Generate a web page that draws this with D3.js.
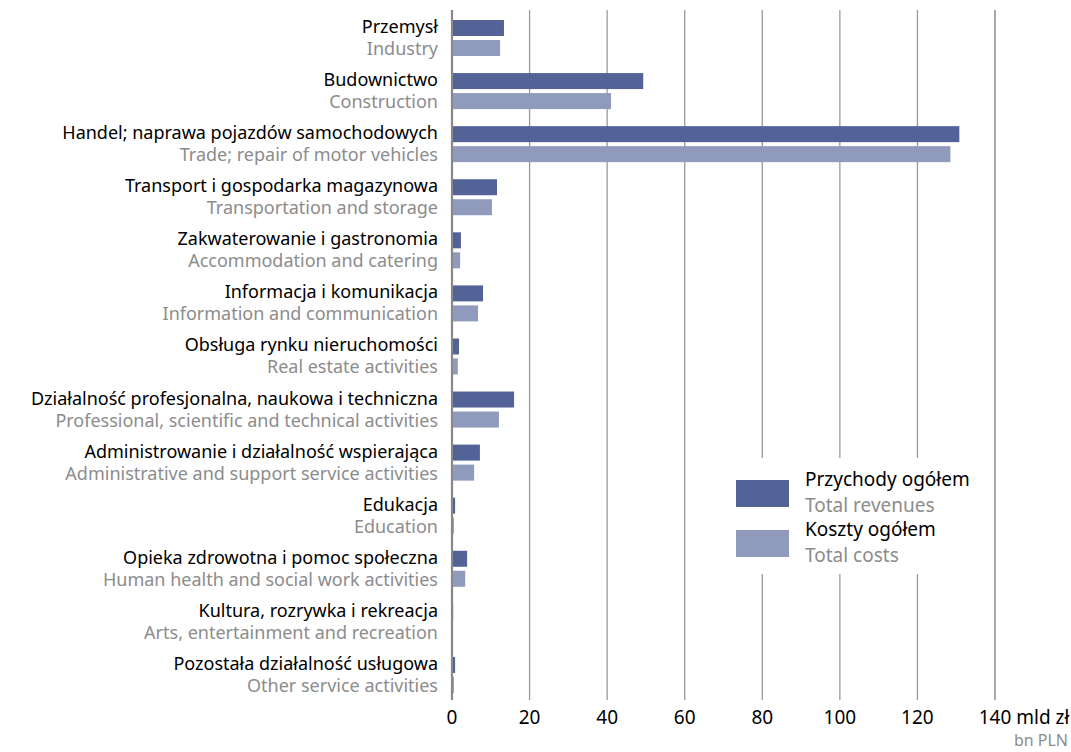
<!DOCTYPE html>
<html lang="pl">
  <head>
    <meta charset="utf-8" />
    <title>Przychody i koszty ogółem</title>
    <script src="https://cdn.jsdelivr.net/npm/d3@7"></script>
    <style>
      body {
        margin: 0;
        background: #fff;
      }
      svg {
        font-family: "Noto Sans", sans-serif;
      }
      .pl {
        fill: #000;
        font-size: 18px;
      }
      .en {
        fill: #8c8c8c;
        font-size: 18px;
      }
      .tick-label {
        font-size: 19px;
        fill: #000;
      }
    </style>
  </head>
  <body>
    <svg id="chart"></svg>
    <script>
      const labelsPl = [
        "Przemysł",
        "Budownictwo",
        "Handel; naprawa pojazdów samochodowych",
        "Transport i gospodarka magazynowa",
        "Zakwaterowanie i gastronomia",
        "Informacja i komunikacja",
        "Obsługa rynku nieruchomości",
        "Działalność profesjonalna, naukowa i techniczna",
        "Administrowanie i działalność wspierająca",
        "Edukacja",
        "Opieka zdrowotna i pomoc społeczna",
        "Kultura, rozrywka i rekreacja",
        "Pozostała działalność usługowa"
      ];
      const labelsEn = [
        "Industry",
        "Construction",
        "Trade; repair of motor vehicles",
        "Transportation and storage",
        "Accommodation and catering",
        "Information and communication",
        "Real estate activities",
        "Professional, scientific and technical activities",
        "Administrative and support service activities",
        "Education",
        "Human health and social work activities",
        "Arts, entertainment and recreation",
        "Other service activities"
      ];
      const revenues = [13.4, 49.3, 130.8, 11.6, 2.3, 8.0, 1.8, 16.0, 7.2, 0.8, 3.9, 0.3, 0.8];
      const costs = [12.4, 41.0, 128.5, 10.3, 2.1, 6.7, 1.5, 12.1, 5.7, 0.5, 3.4, 0.2, 0.5];
      const ticks = [0, 20, 40, 60, 80, 100, 120, 140];
      const seriesPl = ["Przychody ogółem", "Koszty ogółem"];
      const seriesEn = ["Total revenues", "Total costs"];
      const colors = ["#536397", "#8f9abc"];

      const W = 1071, H = 752;
      const margin = { top: 10, left: 452, right: 76, bottom: 52 };

      const svg = d3.select("#chart").attr("width", W).attr("height", H);

      const x = d3.scaleLinear().domain([0, 140]).range([margin.left, W - margin.right]);
      const y = d3.scaleBand().domain(d3.range(labelsPl.length)).range([margin.top, H - margin.bottom]);
      // two bars per category: 16px tall, 4px apart, 10px from band top
      const sub = d3.scaleBand().domain([0, 1]).range([10, 46]).paddingInner(0.2);

      // grid lines
      const grid = svg.append("g");
      grid.selectAll("line")
        .data(ticks)
        .join("line")
        .attr("x1", d => x(d))
        .attr("x2", d => x(d))
        .attr("y1", margin.top)
        .attr("y2", H - margin.bottom)
        .attr("stroke", d => (d === 0 ? "#888" : d === 140 ? "#7a7a7a" : "#9a9a9a"))
        .attr("stroke-width", d => (d === 0 ? 2.2 : 1.3));

      // bars
      const groups = svg.append("g")
        .selectAll("g")
        .data(labelsPl.map((d, i) => ({ i, vals: [revenues[i], costs[i]] })))
        .join("g")
        .attr("transform", d => `translate(0,${y(d.i)})`);

      groups.selectAll("rect")
        .data(d => d.vals.map((v, s) => ({ v, s })))
        .join("rect")
        .attr("x", x(0) + 1)
        .attr("y", d => sub(d.s))
        .attr("height", sub.bandwidth())
        .attr("width", d => Math.max(0, x(d.v) - x(0) - 1))
        .attr("fill", d => colors[d.s]);

      // category labels
      groups.append("text")
        .attr("class", "pl")
        .attr("x", margin.left - 14)
        .attr("y", 23)
        .attr("text-anchor", "end")
        .text(d => labelsPl[d.i]);

      groups.append("text")
        .attr("class", "en")
        .attr("x", margin.left - 14)
        .attr("y", 45)
        .attr("text-anchor", "end")
        .text(d => labelsEn[d.i]);

      // x tick labels
      const tl = svg.append("g");
      tl.selectAll("text")
        .data(ticks)
        .join("text")
        .attr("class", "tick-label")
        .attr("x", d => x(d))
        .attr("y", H - 28)
        .attr("text-anchor", "middle")
        .text(d => d);

      const last = tl.selectAll("text").filter(d => d === 140);
      last.attr("text-anchor", "start")
        .attr("x", function() {
          return x(140) - this.getComputedTextLength() / 2;
        })
        .text("140 mld zł");

      svg.append("text")
        .attr("class", "en")
        .style("font-size", "16px")
        .attr("x", W - 3)
        .attr("y", H - 6)
        .attr("text-anchor", "end")
        .text("bn PLN");

      // legend with white background over grid
      const legend = svg.append("g");
      legend.append("rect")
        .attr("x", 728)
        .attr("y", 458)
        .attr("width", 258)
        .attr("height", 116)
        .attr("fill", "#fff");

      seriesPl.forEach((name, s) => {
        const ly = 480 + s * 50;
        legend.append("rect")
          .attr("x", 736)
          .attr("y", ly)
          .attr("width", 53)
          .attr("height", 27)
          .attr("fill", colors[s]);
        legend.append("text")
          .attr("class", "pl")
          .style("font-size", "19px")
          .attr("x", 805)
          .attr("y", ly + 6)
          .text(name);
        legend.append("text")
          .attr("class", "en")
          .style("font-size", "19px")
          .attr("x", 805)
          .attr("y", ly + 32)
          .text(seriesEn[s]);
      });
    </script>
  </body>
</html>
